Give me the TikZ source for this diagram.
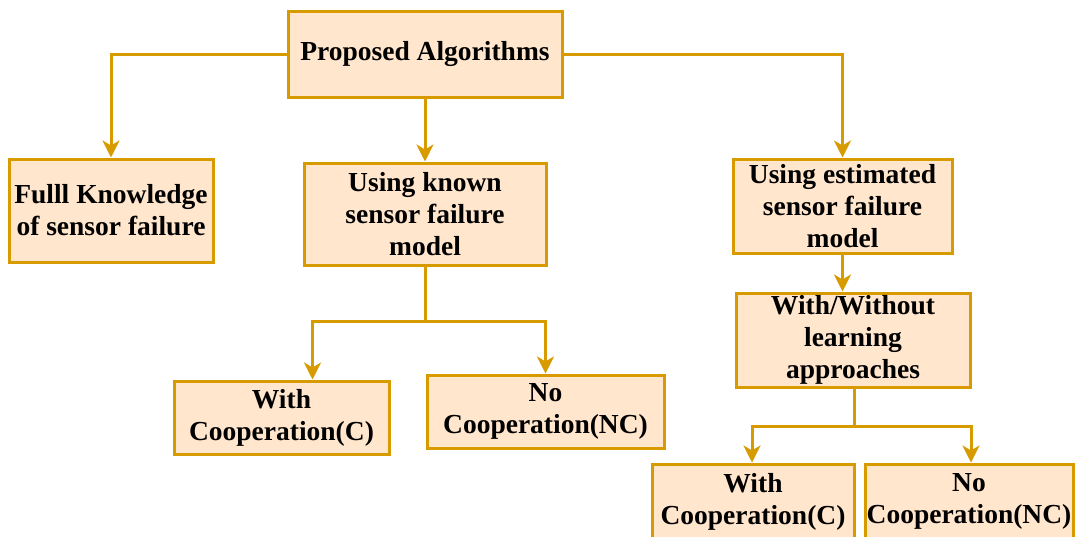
\documentclass[tikz,border=0pt]{standalone}
\usepackage{fontspec}
\setmainfont{Liberation Serif}
\usetikzlibrary{arrows.meta}
\definecolor{peach}{HTML}{FFE6CC}
\definecolor{gold}{HTML}{D79B00}
\begin{document}
\begin{tikzpicture}[x=1pt,y=-1pt,
  box/.style={draw=gold, fill=peach, line width=3pt, inner sep=0pt,
    align=center, font=\bfseries\fontsize{27.5}{32}\selectfont},
  link/.style={draw=gold, line width=3pt},
  arr/.style={link, -{Stealth[length=17pt, width=17pt, inset=5pt]}}]
\useasboundingbox (0,0) rectangle (1075,536);

% tree nodes
\node[box, minimum width=274pt, minimum height=86pt] (top) at (425,54) {Proposed Algorithms};
\node[box, minimum width=204pt, minimum height=103pt] (full) at (111,210.5) {Fulll Knowledge\\of sensor failure};
\node[box, minimum width=242pt, minimum height=102pt] (known) at (425,214) {Using known\\sensor failure\\model};
\node[box, minimum width=219pt, minimum height=94pt] (est) at (842.5,206) {Using estimated\\sensor failure\\model};
\node[box, minimum width=234pt, minimum height=94pt] (learn) at (853,340) {With/Without\\learning\\approaches};
\node[box, minimum width=215pt, minimum height=73pt] (wc1) at (281.5,417.5) {With\\Cooperation(C)};
\node[box, minimum width=237pt, minimum height=73pt] (nc1) at (545.5,411.5) {No\\Cooperation(NC)};
\node[box, minimum width=202pt, minimum height=75pt] (wc2) at (753,501.5) {With\\Cooperation(C)};
\node[box, minimum width=208pt, minimum height=75pt] (nc2) at (969,501.5) {No\\Cooperation(NC)};

% connectors
\draw[arr] (top.west) -| (full.north);
\draw[arr] (top.east) -| (est.north);
\draw[arr] (top.south) -- (known.north);

\coordinate (j1) at (425,321);
\draw[link] (known.south) -- (j1);
\draw[arr] (j1) -| ([xshift=31pt]wc1.north);
\draw[arr] (j1) -| (nc1.north);

\draw[arr] (est.south) -- (est.south |- learn.north);

\coordinate (j2) at (854,426);
\draw[link] (learn.south -| j2) -- (j2);
\draw[arr] (j2) -| ([xshift=-1pt]wc2.north);
\draw[arr] (j2) -| ([xshift=2pt]nc2.north);
\end{tikzpicture}
\end{document}
